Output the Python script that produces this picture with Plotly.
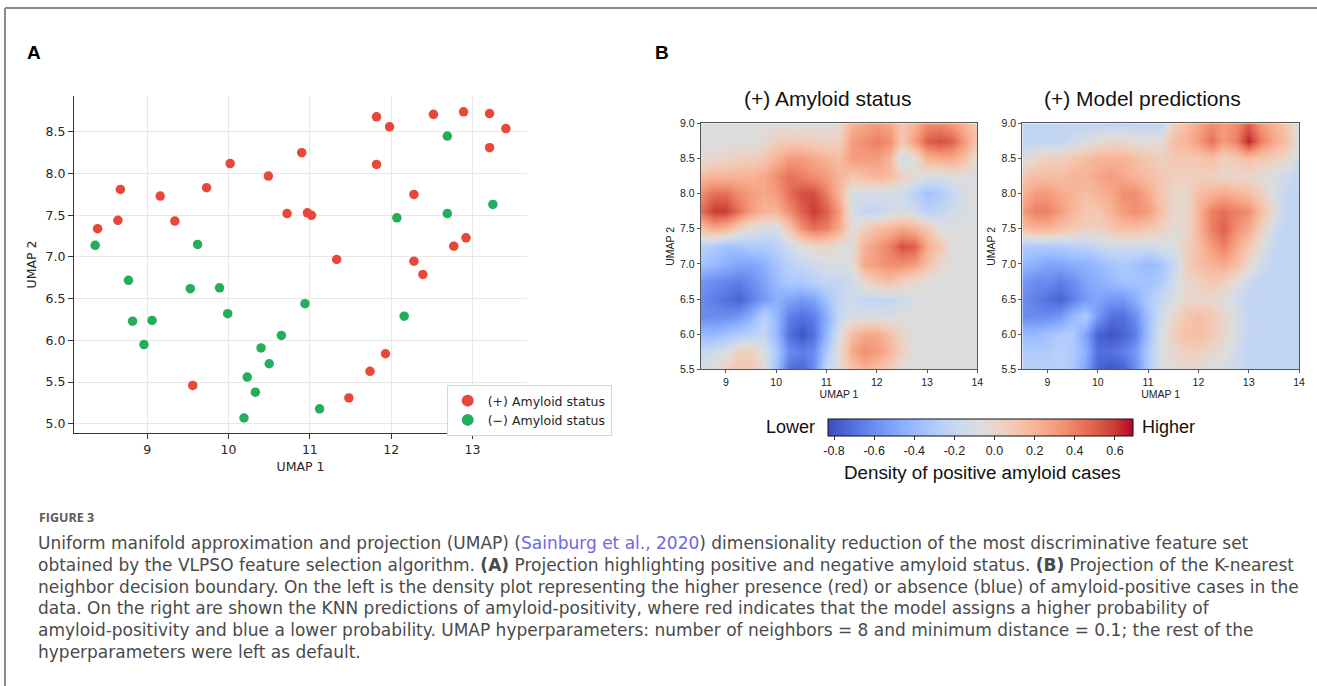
import plotly.graph_objects as go

W, H = 1317, 686

# ---------------- Panel A data (UMAP scatter) ----------------
pos_umap1 = [8.39, 8.67, 8.64, 9.16, 9.34, 9.73, 10.02, 10.49, 10.90, 10.72, 10.97, 11.02, 11.33,
             11.82, 11.98, 12.52, 12.89, 13.21, 13.41, 13.21, 11.82, 12.28, 12.28, 12.92, 12.77,
             12.39, 9.56, 11.48, 11.93, 11.74]
pos_umap2 = [7.34, 7.81, 7.44, 7.73, 7.43, 7.83, 8.12, 7.97, 8.25, 7.52, 7.53, 7.50, 6.97,
             8.68, 8.56, 8.71, 8.74, 8.72, 8.54, 8.31, 8.11, 7.75, 6.95, 7.23, 7.13,
             6.79, 5.46, 5.31, 5.84, 5.63]
neg_umap1 = [8.36, 9.62, 8.77, 12.69, 13.25, 12.07, 12.69, 9.53, 9.89, 10.94, 8.82, 9.06, 9.99,
             10.65, 8.96, 10.40, 10.50, 10.23, 10.33, 10.19, 11.12, 12.16]
neg_umap2 = [7.14, 7.15, 6.72, 8.45, 7.63, 7.47, 7.52, 6.62, 6.63, 6.44, 6.23, 6.24, 6.32,
             6.06, 5.95, 5.91, 5.72, 5.56, 5.38, 5.07, 5.18, 6.29]

scatter_xticks = [9, 10, 11, 12, 13]
scatter_yticks = [5.0, 5.5, 6.0, 6.5, 7.0, 7.5, 8.0, 8.5]

# ---------------- Panel B data (density grids) ----------------
grid_umap1 = [8.5, 8.75, 9.0, 9.25, 9.5, 9.75, 10.0, 10.25, 10.5, 10.75, 11.0, 11.25,
              11.5, 11.75, 12.0, 12.25, 12.5, 12.75, 13.0, 13.25, 13.5, 13.75, 14.0]
grid_umap2_top_down = [9.0, 8.75, 8.5, 8.25, 8.0, 7.75, 7.5, 7.25, 7.0, 6.75, 6.5, 6.25, 6.0, 5.75, 5.5]

N = -0.07   # neutral density
amyloid_density = [
    [N, N, N, N, N, N, N, N, N, N, N, -0.02, 0.2, 0.25, 0.3, 0.25, 0.1, 0.2, 0.35, 0.35, 0.3, 0.2, 0.05],
    [N, N, N, N, N, -0.02, 0.05, 0.08, 0.08, 0.05, 0.03, 0.05, 0.3, 0.35, 0.4, 0.35, 0.1, 0.3, 0.5, 0.55, 0.5, 0.3, 0.1],
    [-0.05, 0.0, 0.02, 0.05, 0.05, 0.1, 0.2, 0.3, 0.3, 0.25, 0.2, 0.15, 0.3, 0.3, 0.3, 0.2, -0.15, -0.05, 0.2, 0.25, 0.25, 0.15, N],
    [0.15, 0.2, 0.2, 0.2, 0.2, 0.25, 0.35, 0.45, 0.4, 0.35, 0.3, 0.2, 0.1, 0.15, 0.2, 0.15, 0.05, -0.05, -0.1, -0.1, -0.05, N, N],
    [0.35, 0.45, 0.45, 0.35, 0.3, 0.25, 0.3, 0.45, 0.55, 0.55, 0.4, 0.2, -0.1, -0.12, -0.12, -0.12, -0.15, -0.25, -0.35, -0.3, -0.2, -0.1, N],
    [0.45, 0.6, 0.6, 0.45, 0.3, 0.2, 0.2, 0.35, 0.5, 0.6, 0.5, 0.3, -0.1, -0.2, -0.2, -0.15, -0.1, -0.15, -0.25, -0.2, -0.15, -0.1, N],
    [0.15, 0.25, 0.2, 0.05, -0.05, -0.1, -0.12, 0.1, 0.35, 0.45, 0.4, 0.25, -0.05, 0.05, 0.15, 0.2, 0.25, 0.2, 0.1, N, N, N, N],
    [-0.25, -0.3, -0.35, -0.35, -0.3, -0.3, -0.25, -0.15, -0.05, 0.0, 0.0, -0.05, -0.05, 0.2, 0.3, 0.4, 0.55, 0.5, 0.25, 0.1, N, N, N],
    [-0.35, -0.4, -0.45, -0.5, -0.5, -0.45, -0.35, -0.25, -0.2, -0.15, -0.1, -0.1, -0.05, 0.25, 0.3, 0.35, 0.35, 0.3, 0.15, 0.0, N, N, N],
    [-0.55, -0.6, -0.62, -0.65, -0.6, -0.5, -0.4, -0.3, -0.3, -0.25, -0.2, -0.2, -0.15, 0.0, 0.1, 0.15, 0.05, -0.02, N, N, N, N, N],
    [-0.6, -0.65, -0.7, -0.75, -0.65, -0.55, -0.45, -0.5, -0.55, -0.5, -0.35, -0.2, -0.15, -0.2, -0.2, -0.2, -0.15, -0.1, N, N, N, N, N],
    [-0.6, -0.6, -0.6, -0.55, -0.45, -0.25, -0.4, -0.65, -0.7, -0.65, -0.45, -0.2, -0.1, -0.1, -0.1, -0.1, N, N, N, N, N, N, N],
    [-0.4, -0.4, -0.35, -0.3, -0.25, -0.2, -0.4, -0.7, -0.8, -0.7, -0.4, -0.1, 0.15, 0.25, 0.25, 0.15, 0.0, N, N, N, N, N, N],
    [-0.2, -0.15, -0.1, 0.05, 0.05, -0.1, -0.3, -0.6, -0.65, -0.6, -0.3, -0.05, 0.25, 0.35, 0.3, 0.2, 0.05, N, N, N, N, N, N],
    [-0.1, -0.05, 0.05, 0.1, 0.1, -0.05, -0.35, -0.7, -0.75, -0.6, -0.2, -0.05, 0.1, 0.2, 0.15, 0.05, N, N, N, N, N, N, N],
]

B = -0.22   # background of the model prediction map
model_density = [
    [B, B, B, B, B, B, B, B, B, B, B, B, 0.05, 0.15, 0.25, 0.35, 0.3, 0.35, 0.5, 0.3, 0.2, 0.1, -0.1],
    [B, B, B, -0.2, -0.15, -0.1, -0.05, 0.0, 0.0, -0.05, -0.05, -0.05, 0.15, 0.2, 0.3, 0.45, 0.3, 0.4, 0.65, 0.4, 0.25, 0.15, -0.1],
    [-0.1, 0.0, 0.05, 0.05, 0.1, 0.15, 0.2, 0.2, 0.2, 0.15, 0.1, 0.05, 0.1, 0.1, 0.1, 0.15, 0.05, 0.1, 0.15, 0.1, 0.05, 0.0, -0.15],
    [0.1, 0.15, 0.15, 0.15, 0.2, 0.2, 0.25, 0.3, 0.25, 0.2, 0.15, 0.1, 0.05, 0.05, 0.05, 0.05, 0.0, 0.0, 0.0, -0.05, -0.1, -0.15, B],
    [0.2, 0.3, 0.3, 0.25, 0.2, 0.15, 0.2, 0.25, 0.35, 0.35, 0.25, 0.1, 0.0, 0.0, 0.15, 0.2, 0.25, 0.2, 0.15, 0.05, -0.1, -0.2, B],
    [0.3, 0.4, 0.4, 0.3, 0.2, 0.1, 0.1, 0.2, 0.3, 0.35, 0.3, 0.15, 0.0, 0.0, 0.2, 0.4, 0.45, 0.4, 0.35, 0.15, -0.05, -0.2, B],
    [0.15, 0.2, 0.2, 0.15, 0.1, 0.05, 0.05, 0.1, 0.15, 0.15, 0.1, 0.05, -0.05, 0.0, 0.2, 0.4, 0.5, 0.35, 0.25, 0.05, -0.15, B, B],
    [-0.3, -0.3, -0.3, -0.3, -0.25, -0.25, -0.2, -0.15, -0.15, -0.15, -0.15, -0.1, -0.1, 0.05, 0.15, 0.3, 0.4, 0.25, 0.1, -0.05, -0.2, B, B],
    [-0.4, -0.45, -0.5, -0.5, -0.45, -0.45, -0.4, -0.35, -0.3, -0.35, -0.4, -0.35, -0.2, 0.05, 0.15, 0.2, 0.25, 0.15, 0.0, -0.15, B, B, B],
    [-0.55, -0.6, -0.6, -0.65, -0.6, -0.5, -0.45, -0.4, -0.35, -0.35, -0.35, -0.3, -0.15, 0.0, 0.05, 0.1, 0.05, -0.05, -0.15, B, B, B, B],
    [-0.6, -0.65, -0.7, -0.75, -0.65, -0.55, -0.5, -0.55, -0.55, -0.45, -0.3, -0.2, -0.1, 0.0, 0.0, 0.0, -0.05, -0.15, B, B, B, B, B],
    [-0.6, -0.6, -0.6, -0.55, -0.4, -0.3, -0.55, -0.7, -0.7, -0.6, -0.35, -0.15, 0.0, 0.1, 0.15, 0.1, 0.0, -0.1, -0.2, B, B, B, B],
    [-0.4, -0.4, -0.35, -0.3, -0.3, -0.5, -0.75, -0.8, -0.75, -0.65, -0.35, -0.1, 0.05, 0.15, 0.15, 0.1, 0.0, -0.1, -0.2, B, B, B, B],
    [-0.3, -0.3, -0.3, -0.25, -0.3, -0.45, -0.7, -0.7, -0.65, -0.55, -0.3, -0.1, 0.0, 0.05, 0.05, 0.0, -0.05, -0.15, B, B, B, B, B],
    [-0.25, -0.25, -0.25, -0.25, -0.3, -0.5, -0.75, -0.8, -0.75, -0.6, -0.3, -0.1, -0.05, 0.0, -0.05, -0.1, -0.1, -0.15, B, B, B, B, B],
]

heat_xticks = [9, 10, 11, 12, 13, 14]
heat_yticks = [5.5, 6.0, 6.5, 7.0, 7.5, 8.0, 8.5, 9.0]
cbar_ticks = [-0.8, -0.6, -0.4, -0.2, 0.0, 0.2, 0.4, 0.6]
cbar_ticktext = ["-0.8", "-0.6", "-0.4", "-0.2", "0.0", "0.2", "0.4", "0.6"]
cbar_min, cbar_max = -0.83, 0.69

coolwarm = [
    [0.0, "rgb(59,76,192)"], [0.0625, "rgb(77,104,215)"], [0.125, "rgb(98,130,234)"],
    [0.1875, "rgb(119,154,247)"], [0.25, "rgb(141,176,254)"], [0.3125, "rgb(163,194,255)"],
    [0.375, "rgb(184,208,249)"], [0.4375, "rgb(204,217,238)"], [0.5, "rgb(221,221,221)"],
    [0.5625, "rgb(236,211,197)"], [0.625, "rgb(245,196,173)"], [0.6875, "rgb(247,177,148)"],
    [0.75, "rgb(244,154,123)"], [0.8125, "rgb(236,127,99)"], [0.875, "rgb(222,96,77)"],
    [0.9375, "rgb(203,62,56)"], [1.0, "rgb(180,4,38)"],
]

caption_lines = [
    "Uniform manifold approximation and projection (UMAP) (<span style='color:#6E66E8'>Sainburg et al., 2020</span>) dimensionality reduction of the most discriminative feature set",
    "obtained by the VLPSO feature selection algorithm. <b>(A)</b> Projection highlighting positive and negative amyloid status. <b>(B)</b> Projection of the K-nearest",
    "neighbor decision boundary. On the left is the density plot representing the higher presence (red) or absence (blue) of amyloid-positive cases in the",
    "data. On the right are shown the KNN predictions of amyloid-positivity, where red indicates that the model assigns a higher probability of",
    "amyloid-positivity and blue a lower probability. UMAP hyperparameters: number of neighbors = 8 and minimum distance = 0.1; the rest of the",
    "hyperparameters were left as default.",
]


def px_x(p):
    return p / W


def px_y(p):
    return 1 - p / H


fig = go.Figure()

RED, GREEN = "#E8473A", "#23AE5C"
fig.add_trace(go.Scatter(x=pos_umap1, y=pos_umap2, mode="markers", name="(+) Amyloid status",
                         marker=dict(color=RED, size=9.5), xaxis="x", yaxis="y"))
fig.add_trace(go.Scatter(x=neg_umap1, y=neg_umap2, mode="markers", name="(\u2212) Amyloid status",
                         marker=dict(color=GREEN, size=9.5), xaxis="x", yaxis="y"))

z_amy = amyloid_density[::-1]
z_mod = model_density[::-1]
y_grid = grid_umap2_top_down[::-1]
fig.add_trace(go.Heatmap(x=grid_umap1, y=y_grid, z=z_amy, coloraxis="coloraxis", zsmooth="best",
                         xaxis="x2", yaxis="y2", showlegend=False, hoverinfo="skip"))
fig.add_trace(go.Heatmap(x=grid_umap1, y=y_grid, z=z_mod, coloraxis="coloraxis", zsmooth="best",
                         xaxis="x3", yaxis="y3", showlegend=False, hoverinfo="skip"))

sc_font = dict(family="DejaVu Sans", size=12.5, color="#262626")
hm_font = dict(family="Liberation Sans", size=10.5, color="#222")
hm_title_font = dict(family="Liberation Sans", size=10.5, color="#222")

fig.update_layout(
    width=W, height=H, margin=dict(l=0, r=0, t=0, b=0, pad=0, autoexpand=False),
    paper_bgcolor="white", plot_bgcolor="white",
    xaxis=dict(domain=[px_x(74), px_x(527)], range=[8.1, 13.67], tickvals=scatter_xticks,
               showgrid=True, gridcolor="#e8e8e8", zeroline=False, showline=True, linecolor="#333",
               linewidth=1.3, ticks="outside", ticklen=5, tickcolor="#333", tickfont=sc_font,
               title=dict(text="UMAP 1", font=sc_font, standoff=6), anchor="y", automargin=False),
    yaxis=dict(domain=[px_y(433), px_y(96)], range=[4.89, 8.93], tickvals=scatter_yticks,
               tickformat=".1f", showgrid=True, gridcolor="#e8e8e8", zeroline=False, showline=True,
               linecolor="#333", linewidth=1.3, ticks="outside", ticklen=5, tickcolor="#333",
               tickfont=sc_font, title=dict(text="UMAP 2", font=sc_font, standoff=6), anchor="x",
               automargin=False),
    xaxis2=dict(domain=[px_x(700.7), px_x(977.3)], range=[8.5, 14], tickvals=heat_xticks,
                showgrid=False, zeroline=False, showline=True, mirror=True, linecolor="#555",
                linewidth=1, ticks="outside", ticklen=3, tickcolor="#555", tickfont=hm_font,
                title=dict(text="UMAP 1", font=hm_title_font, standoff=3), anchor="y2", automargin=False),
    yaxis2=dict(domain=[px_y(369.3), px_y(123.3)], range=[5.5, 9.0], tickvals=heat_yticks,
                tickformat=".1f", showgrid=False, zeroline=False, showline=True, mirror=True,
                linecolor="#555", linewidth=1, ticks="outside", ticklen=3, tickcolor="#555",
                tickfont=hm_font, title=dict(text="UMAP 2", font=hm_title_font, standoff=3),
                anchor="x2", automargin=False),
    xaxis3=dict(domain=[px_x(1022.3), px_x(1299)], range=[8.5, 14], tickvals=heat_xticks,
                showgrid=False, zeroline=False, showline=True, mirror=True, linecolor="#555",
                linewidth=1, ticks="outside", ticklen=3, tickcolor="#555", tickfont=hm_font,
                title=dict(text="UMAP 1", font=hm_title_font, standoff=3), anchor="y3", automargin=False),
    yaxis3=dict(domain=[px_y(369.3), px_y(123.3)], range=[5.5, 9.0], tickvals=heat_yticks,
                tickformat=".1f", showgrid=False, zeroline=False, showline=True, mirror=True,
                linecolor="#555", linewidth=1, ticks="outside", ticklen=3, tickcolor="#555",
                tickfont=hm_font, title=dict(text="UMAP 2", font=hm_title_font, standoff=3),
                anchor="x3", automargin=False),
    coloraxis=dict(
        colorscale=coolwarm, cmin=cbar_min, cmax=cbar_max,
        colorbar=dict(orientation="h", x=px_x(980.5), xanchor="center", y=px_y(418.5), yanchor="top",
                      len=305, lenmode="pixels", thickness=17, thicknessmode="pixels",
                      outlinecolor="#111", outlinewidth=1, xpad=0, ypad=0,
                      tickvals=cbar_ticks, ticktext=cbar_ticktext, ticks="outside", ticklen=4,
                      tickcolor="#333",
                      tickfont=dict(family="Liberation Sans", size=12.5, color="#222")),
    ),
    legend=dict(x=px_x(446.7), y=px_y(385), xanchor="left", yanchor="top", bgcolor="white",
                bordercolor="#d6d6d6", borderwidth=1, font=sc_font, tracegroupgap=0,
                itemsizing="constant"),
    showlegend=True,
)

ann = []
ann.append(dict(text="<b>A</b>", x=px_x(34), y=px_y(52), xanchor="center", yanchor="middle",
                font=dict(family="Liberation Sans", size=19, color="#000")))
ann.append(dict(text="<b>B</b>", x=px_x(662), y=px_y(52), xanchor="center", yanchor="middle",
                font=dict(family="Liberation Sans", size=19, color="#000")))
ann.append(dict(text="(+) Amyloid status", x=px_x(827), y=px_y(99), xanchor="center", yanchor="middle",
                font=dict(family="Liberation Sans", size=21, color="#111")))
ann.append(dict(text="(+) Model predictions", x=px_x(1142), y=px_y(99), xanchor="center", yanchor="middle",
                font=dict(family="Liberation Sans", size=21, color="#111")))
ann.append(dict(text="Lower", x=px_x(790), y=px_y(427), xanchor="center", yanchor="middle",
                font=dict(family="Liberation Sans", size=18, color="#111")))
ann.append(dict(text="Higher", x=px_x(1168), y=px_y(427), xanchor="center", yanchor="middle",
                font=dict(family="Liberation Sans", size=18, color="#111")))
ann.append(dict(text="Density of positive amyloid cases", x=px_x(982), y=px_y(473), xanchor="center",
                yanchor="middle", font=dict(family="Liberation Sans", size=18.8, color="#111")))
ann.append(dict(text="<b>FIGURE 3</b>", x=px_x(37), y=px_y(517), xanchor="left", yanchor="middle",
                font=dict(family="Open Sans", size=12.5, color="#5a5a5a")))
for i, line in enumerate(caption_lines):
    ann.append(dict(text=line, x=px_x(36), y=px_y(543 + i * 21.8), xanchor="left", yanchor="middle",
                    font=dict(family="DejaVu Sans", size=17, color="#4a4a4a")))
for a in ann:
    a.update(xref="paper", yref="paper", showarrow=False)
fig.update_layout(annotations=ann)

# page frame
fig.update_layout(shapes=[
    dict(type="line", xref="paper", yref="paper", x0=px_x(5), x1=1, y0=px_y(8), y1=px_y(8),
         line=dict(color="#8a8a8a", width=2)),
    dict(type="line", xref="paper", yref="paper", x0=px_x(5), x1=px_x(5), y0=px_y(8), y1=0,
         line=dict(color="#8a8a8a", width=2)),
])

fig.write_html("out.html", config={"displayModeBar": False},
               post_script="document.body.style.margin='0';")
